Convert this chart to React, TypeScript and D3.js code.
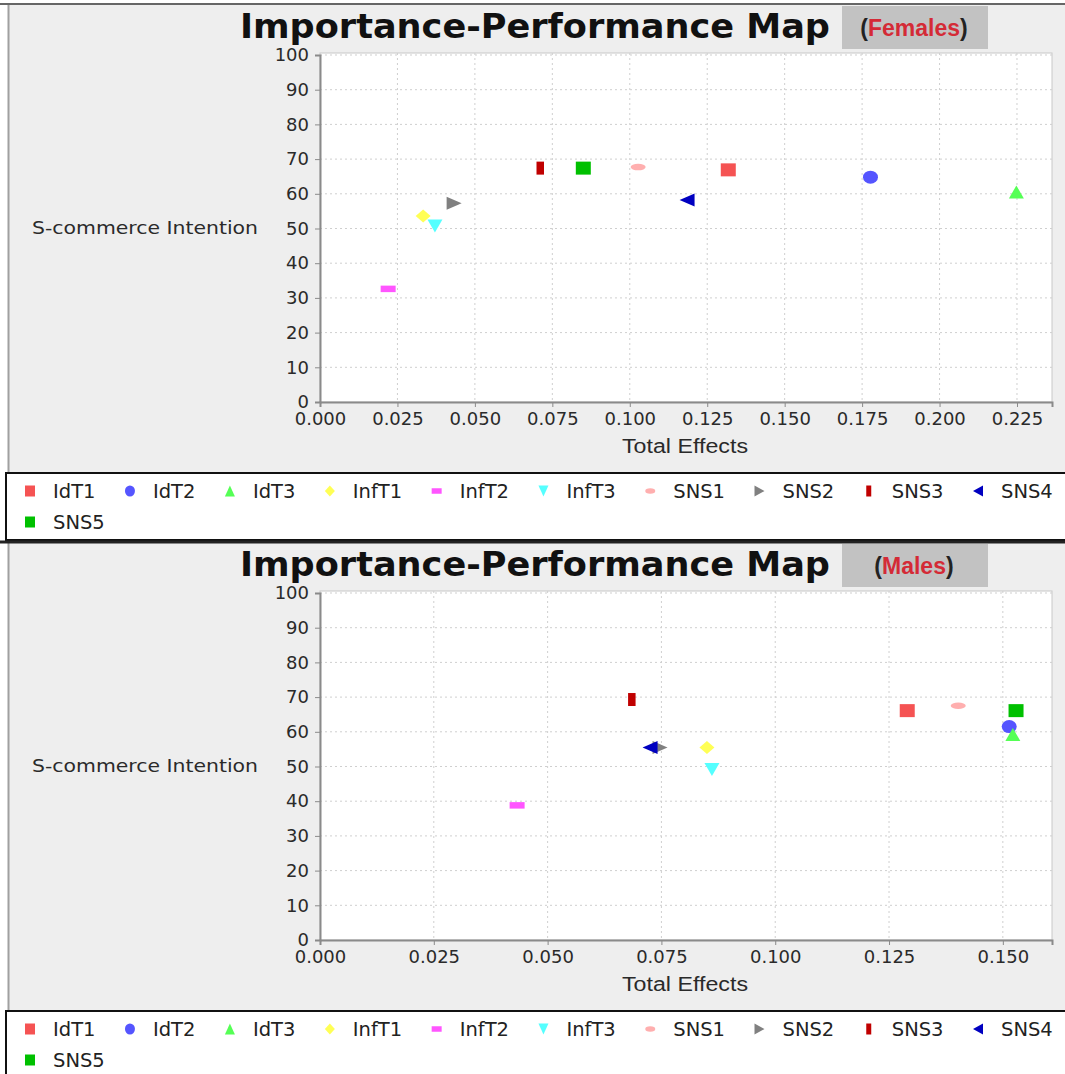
import React, { useEffect, useRef } from "react";
import * as d3 from "d3";

const indicators = ["IdT1", "IdT2", "IdT3", "InfT1", "InfT2", "InfT3", "SNS1", "SNS2", "SNS3", "SNS4", "SNS5"];
const femalesEffects = [0.1318, 0.1777, 0.2248, 0.0333, 0.022, 0.0371, 0.1027, 0.0433, 0.0711, 0.1185, 0.085];
const femalesPerformance = [66.9, 64.8, 60.5, 53.6, 32.6, 50.7, 67.7, 57.3, 67.4, 58.2, 67.4];
const malesEffects = [0.129, 0.1514, 0.1522, 0.085, 0.0433, 0.0861, 0.1402, 0.0747, 0.0685, 0.0725, 0.1529];
const malesPerformance = [66.1, 61.5, 59.2, 55.5, 38.8, 49.1, 67.5, 55.5, 69.3, 55.5, 66.1];
const femalesXTicks = [0, 0.025, 0.05, 0.075, 0.1, 0.125, 0.15, 0.175, 0.2, 0.225];
const malesXTicks = [0, 0.025, 0.05, 0.075, 0.1, 0.125, 0.15];
const yTicks = [0, 10, 20, 30, 40, 50, 60, 70, 80, 90, 100];

const colors = ["#f55353", "#5555ff", "#55ff55", "#ffff55", "#ff55ff", "#55ffff", "#ffafaf", "#808080", "#c00000", "#0000c0", "#00c000"];
const shapes = ["square", "circle", "triUp", "diamond", "hrect", "triDown", "ellipse", "triRight", "vrect", "triLeft", "square"];

function shapePath(kind: string, w: number, h: number): string {
  const a = w / 2, b = h / 2;
  const p = d3.path();
  switch (kind) {
    case "square": p.rect(-a, -b, w, h); break;
    case "circle": return `M${-a},0 A${a},${b} 0 1,0 ${a},0 A${a},${b} 0 1,0 ${-a},0 Z`;
    case "ellipse": { const eb = b * 0.5; return `M${-a},0 A${a},${eb} 0 1,0 ${a},0 A${a},${eb} 0 1,0 ${-a},0 Z`; }
    case "triUp": p.moveTo(0, -b); p.lineTo(a, b); p.lineTo(-a, b); p.closePath(); break;
    case "triDown": p.moveTo(0, b); p.lineTo(a, -b); p.lineTo(-a, -b); p.closePath(); break;
    case "triRight": p.moveTo(a, 0); p.lineTo(-a, -b); p.lineTo(-a, b); p.closePath(); break;
    case "triLeft": p.moveTo(-a, 0); p.lineTo(a, -b); p.lineTo(a, b); p.closePath(); break;
    case "diamond": p.moveTo(0, -b); p.lineTo(a, 0); p.lineTo(0, b); p.lineTo(-a, 0); p.closePath(); break;
    case "hrect": p.rect(-a, -b * 0.5, w, h * 0.5); break;
    case "vrect": p.rect(-a * 0.5, -b, w * 0.5, h); break;
  }
  return p.toString();
}

interface PanelSpec {
  top: number;
  label: string;
  effects: number[];
  performance: number[];
  xTicks: number[];
  xMax: number;
}

const panels: PanelSpec[] = [
  { top: 0, label: "Females", effects: femalesEffects, performance: femalesPerformance, xTicks: femalesXTicks, xMax: 0.2363 },
  { top: 538, label: "Males", effects: malesEffects, performance: malesPerformance, xTicks: malesXTicks, xMax: 0.1608 },
];

export default function App() {
  const ref = useRef<SVGSVGElement>(null);
  useEffect(() => {
    const svg = d3.select(ref.current);
    svg.selectAll("*").remove();
    const W = 1065, H = 1074;
    svg.append("rect").attr("width", W).attr("height", H).attr("fill", "#ffffff");

    panels.forEach((pn) => {
      const g = svg.append("g").attr("transform", `translate(0,${pn.top})`);
      // panel background
      g.append("rect").attr("x", 8).attr("y", 4).attr("width", W - 8).attr("height", 470).attr("fill", "#eeeeee");
      g.append("line").attr("x1", 8.5).attr("x2", 8.5).attr("y1", 4).attr("y2", 474).attr("stroke", "#a0a0a0").attr("stroke-width", 2);
      g.append("line").attr("x1", 0).attr("x2", W).attr("y1", 4).attr("y2", 4).attr("stroke", pn.top === 0 ? "#666" : "#222").attr("stroke-width", pn.top === 0 ? 2 : 3);

      // title
      g.append("text").attr("x", 535).attr("y", 38).attr("text-anchor", "middle")
        .attr("font-family", "'DejaVu Sans Condensed', 'DejaVu Sans', sans-serif").attr("font-weight", "bold")
        .attr("font-size", 34).attr("fill", "#111").attr("textLength", 590).attr("lengthAdjust", "spacingAndGlyphs")
        .text("Importance-Performance Map");
      g.append("rect").attr("x", 842).attr("y", 6).attr("width", 146).attr("height", 43).attr("fill", "#c2c2c2");
      const tt = g.append("text").attr("x", 914).attr("y", 36).attr("text-anchor", "middle")
        .attr("font-family", "'Liberation Sans', Arial, sans-serif").attr("font-weight", "bold").attr("font-size", 23);
      tt.append("tspan").attr("fill", "#222").text("(");
      tt.append("tspan").attr("fill", "#d42a36").text(pn.label);
      tt.append("tspan").attr("fill", "#222").text(")");

      const x = d3.scaleLinear().domain([0, pn.xMax]).range([320, 1052]);
      const y = d3.scaleLinear().domain([0, 100]).range([402, 55]);
      const [x0, x1] = x.range();
      const [y0, y1] = y.range();

      // plot area
      g.append("rect").attr("x", x0).attr("y", y1 - 2).attr("width", x1 - x0).attr("height", y0 - y1 + 2)
        .attr("fill", "#ffffff").attr("stroke", "#c8c8c8").attr("stroke-width", 1);

      // grid
      g.append("g").selectAll("line").data(pn.xTicks.filter((t) => t > 0)).join("line")
        .attr("x1", (d) => x(d)).attr("x2", (d) => x(d)).attr("y1", y1 - 2).attr("y2", y0)
        .attr("stroke", "#cfcfcf").attr("stroke-width", 1).attr("stroke-dasharray", "2,3");
      g.append("g").selectAll("line").data(yTicks.filter((t) => t > 0)).join("line")
        .attr("x1", x0).attr("x2", x1).attr("y1", (d) => y(d)).attr("y2", (d) => y(d))
        .attr("stroke", "#cfcfcf").attr("stroke-width", 1).attr("stroke-dasharray", "2,3");

      // axes
      const yAxis = g.append("g").attr("transform", `translate(${x0},0)`)
        .call(d3.axisLeft(y).tickValues(yTicks).tickSize(5).tickPadding(6).tickFormat(d3.format("d")));
      const xAxis = g.append("g").attr("transform", `translate(0,${y0})`)
        .call(d3.axisBottom(x).tickValues(pn.xTicks).tickSize(5).tickPadding(5).tickFormat(d3.format(".3f")));
      [yAxis, xAxis].forEach((ax) => {
        ax.select(".domain").attr("stroke", "#8a8a8a").attr("stroke-width", 2);
        ax.selectAll(".tick line").attr("stroke", "#8a8a8a");
        ax.selectAll("text").attr("font-family", "'DejaVu Sans', sans-serif").attr("font-size", 18).attr("fill", "#2a2a2a");
      });

      g.append("text").attr("x", 32).attr("y", 234).attr("font-family", "'DejaVu Sans', sans-serif")
        .attr("font-size", 18.5).attr("fill", "#2a2a2a").attr("textLength", 226).attr("lengthAdjust", "spacingAndGlyphs")
        .text("S-commerce Intention");
      g.append("text").attr("x", 685).attr("y", 453).attr("text-anchor", "middle")
        .attr("font-family", "'Liberation Sans', Arial, sans-serif").attr("font-size", 20).attr("fill", "#2a2a2a")
        .attr("textLength", 126).attr("lengthAdjust", "spacingAndGlyphs").text("Total Effects");

      // points
      g.append("g").selectAll("path").data(indicators).join("path")
        .attr("transform", (_d, i) => `translate(${x(pn.effects[i])},${y(pn.performance[i])})`)
        .attr("d", (_d, i) => shapePath(shapes[i], 15, 13))
        .attr("fill", (_d, i) => colors[i]);

      // legend
      const lg = g.append("g");
      lg.append("rect").attr("x", 6).attr("y", 473).attr("width", W - 5).attr("height", 67)
        .attr("fill", "#ffffff").attr("stroke", "#111").attr("stroke-width", 2);
      let cx = 30;
      let row = 0;
      indicators.forEach((name, i) => {
        const item = lg.append("g");
        const t = item.append("text").attr("x", 23).attr("y", 7)
          .attr("font-family", "'DejaVu Sans', sans-serif").attr("font-size", 19.5).attr("fill", "#222").text(name);
        const tw = (t.node() as SVGTextElement).getComputedTextLength();
        if (cx + 23 + tw > 1060) { row += 1; cx = 30; }
        item.attr("transform", `translate(${cx},${491 + row * 31})`);
        item.append("path").attr("d", shapePath(shapes[i], 10, 11)).attr("fill", colors[i]);
        cx += 23 + tw + 34.5;
      });
    });
  }, []);
  return (
    <svg ref={ref} width={1065} height={1074} style={{ position: "absolute", left: 0, top: 0, display: "block" }} />
  );
}
